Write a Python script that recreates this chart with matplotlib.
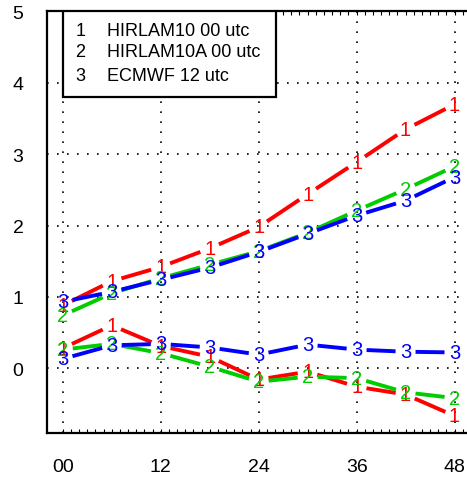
import numpy as np
import matplotlib
matplotlib.use('Agg')
from matplotlib import pyplot as plt
from matplotlib.patches import Rectangle

plt.rcParams['font.family'] = ['Liberation Sans', 'DejaVu Sans']

# forecast lead time (hours)
hours = [0, 6, 12, 18, 24, 30, 36, 42, 48]

# upper curves (rms)
rms_h10 = [0.88, 1.22, 1.42, 1.68, 1.98, 2.44, 2.89, 3.35, 3.70]
rms_h10a = [0.74, 1.05, 1.26, 1.45, 1.64, 1.90, 2.21, 2.51, 2.83]
rms_ec = [0.93, 1.07, 1.24, 1.41, 1.63, 1.885, 2.14, 2.35, 2.68]

# lower curves (bias)
bias_h10 = [0.28, 0.60, 0.31, 0.16, -0.16, -0.05, -0.26, -0.37, -0.67]
bias_h10a = [0.26, 0.34, 0.21, 0.02, -0.19, -0.12, -0.14, -0.34, -0.42]
bias_ec = [0.13, 0.32, 0.34, 0.29, 0.19, 0.33, 0.26, 0.23, 0.22]

labels = ['HIRLAM10 00 utc', 'HIRLAM10A 00 utc', 'ECMWF 12 utc']
symbols = ['1', '2', '3']
colors = ['#ff0000', '#00cd00', '#0000ff']
xticks = [0, 12, 24, 36, 48]
xticklabels = ['00', '12', '24', '36', '48']
yticks = [0, 1, 2, 3, 4, 5]

fig = plt.figure(figsize=(4.67, 4.81), dpi=100)
ax = fig.add_axes([47/467, 47/481, 1 - 47/467, 422/481])
ax.set_xlim(-1.94, 49.53)
ax.set_ylim(-0.91, 5.01)

ax.spines['right'].set_visible(False)
for s in ['left', 'bottom', 'top']:
    ax.spines[s].set_linewidth(1.6)

ax.set_xticks(xticks)
ax.set_xticklabels(xticklabels, fontsize=14)
ax.set_xticks(np.arange(0, 50, 1), minor=True)
ax.tick_params(axis='x', which='both', direction='in', length=3, width=0.8,
               top=True, pad=18)
ax.set_yticks(yticks)
ax.set_yticklabels([str(v) for v in yticks], fontsize=14)
ax.tick_params(axis='y', length=0, pad=17)

for v in xticks:
    ax.axvline(v, color='black', lw=1.2, ls=(0, (1, 5)), zorder=1)
for v in yticks[:-1]:
    ax.axhline(v, color='black', lw=1.2, ls=(0, (1, 5)), zorder=1)

gap = 10  # pixels around each symbol (R type="b")


def draw_b(xs, ys, sym, col):
    pts = ax.transData.transform(np.column_stack([xs, ys]))
    inv = ax.transData.inverted()
    for p0, p1 in zip(pts[:-1], pts[1:]):
        d = p1 - p0
        n = np.hypot(*d)
        if n <= 2 * gap:
            continue
        u = d / n
        a = inv.transform(p0 + u * gap)
        b = inv.transform(p1 - u * gap)
        ax.plot([a[0], b[0]], [a[1], b[1]], color=col, lw=2.8,
                solid_capstyle='butt', zorder=3)
    for x, y in zip(xs, ys):
        ax.text(x, y, sym, color=col, fontsize=14.5, ha='center', va='center',
                zorder=4)


series = [(rms_h10, bias_h10), (rms_h10a, bias_h10a), (rms_ec, bias_ec)]
for (up, lo), sym, col in zip(series, symbols, colors):
    draw_b(hours, up, sym, col)
    draw_b(hours, lo, sym, col)

# legend box
box = Rectangle((0.038, 0.796), 0.507, 0.204, transform=ax.transAxes,
                facecolor='white', edgecolor='black', lw=1.6, zorder=5)
ax.add_patch(box)
rows = [0.953, 0.903, 0.847]
for sym, lab, yy in zip(symbols, labels, rows):
    ax.text(0.079, yy, sym, transform=ax.transAxes, fontsize=13,
            ha='center', va='center', zorder=6)
    ax.text(0.142, yy, lab, transform=ax.transAxes, fontsize=13,
            ha='left', va='center', zorder=6)

plt.savefig('out.png', dpi=100)
